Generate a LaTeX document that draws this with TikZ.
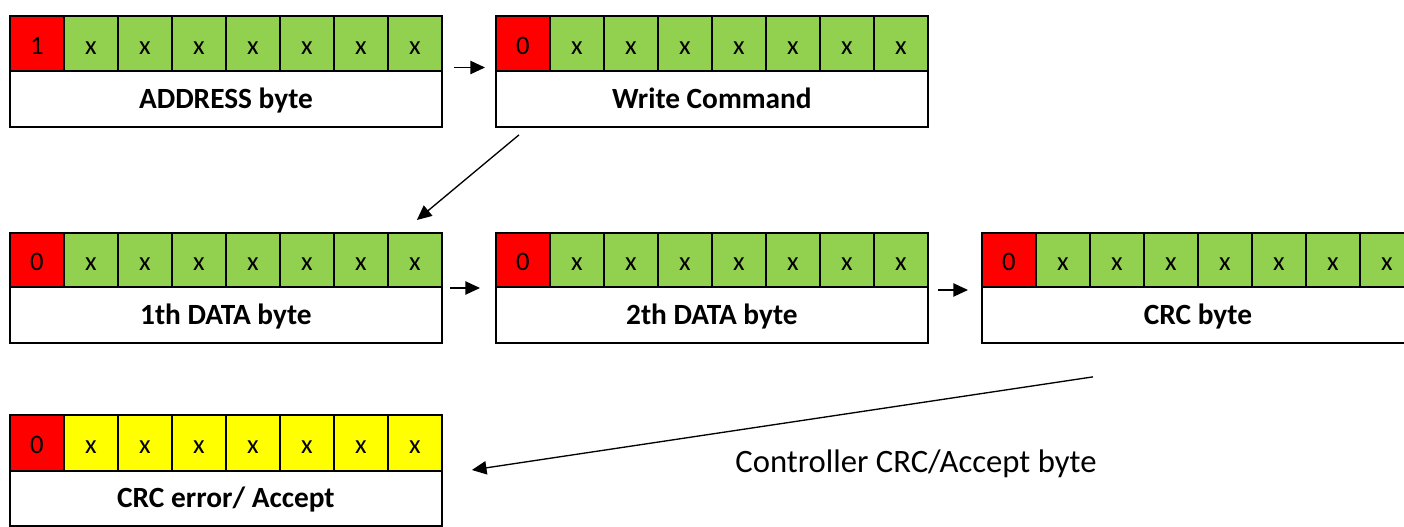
\documentclass[tikz,border=0pt]{standalone}
\usepackage{fontspec}
\setmainfont{Carlito}
\usetikzlibrary{arrows.meta}
\definecolor{bitred}{HTML}{FF0000}
\definecolor{bitgreen}{HTML}{92D050}
\definecolor{bityellow}{HTML}{FFFF00}
\tikzset{
  cell/.style={draw=black, line width=1.4pt, minimum width=40.5pt, inner sep=0pt,
    anchor=north west, font=\fontsize{20}{20}\selectfont, text height=16pt, text depth=0.2pt},
  lab/.style={draw=black, fill=white, line width=1.4pt, minimum width=324pt, inner sep=0pt,
    anchor=north west, font=\fontsize{22}{22}\selectfont\bfseries, text height=14pt, text depth=0pt},
  conn/.style={draw=black, line width=1pt, -{Triangle[length=11pt,width=10pt]}},
  captext/.style={font=\fontsize{24.5}{24.5}\selectfont, inner sep=0pt, anchor=base}
}
% name, x, ytop, ydiv, ybot, first bit, colour, label
\newcommand\bytebox[8]{%
  \node[lab, minimum height={(#5-#4)*0.75pt}] (#1) at (#2,#4) {#8};
  \node[cell, fill=bitred, minimum height={(#4-#3)*0.75pt}] (#1-c1) at (#2,#3) {#6};
  \foreach \i in {2,...,8}{%
    \node[cell, fill=#7, minimum height={(#4-#3)*0.75pt}] (#1-c\i) at ({#2+(\i-1)*54},#3) {x};
  }%
}
\begin{document}
\begin{tikzpicture}[x=0.75pt, y=-0.75pt]
\useasboundingbox[fill=white] (0,0) rectangle (1404,527);
\bytebox{A}{9}{15}{70.5}{126.5}{1}{bitgreen}{ADDRESS byte}
\bytebox{W}{495}{15}{70.5}{126.5}{0}{bitgreen}{Write Command}
\bytebox{D1}{9}{232.5}{286}{342}{0}{bitgreen}{1th DATA byte}
\bytebox{D2}{495}{232.5}{286}{342}{0}{bitgreen}{2th DATA byte}
\bytebox{C}{981}{232.5}{286}{342}{0}{bitgreen}{CRC byte}
\bytebox{E}{9}{414.5}{470}{525}{0}{bityellow}{CRC error/ Accept}
\node[captext] (cap) at (916,473) {Controller CRC/Accept byte};
\draw[conn] ([shift={(11,-3)}]A.north east) -- ([shift={(-10,-3)}]W.north west);
\draw[conn] ([shift={(24,6.5)}]W.south west) -- ([shift={(-26,-12.5)}]D1-c8.north east);
\draw[conn] ([shift={(7,2)}]D1.north east) -- ([shift={(-15,2)}]D2.north west);
\draw[conn] ([shift={(9,4)}]D2.north east) -- ([shift={(-13,4)}]C.north west);
\draw[conn] ([shift={(112,33)}]C.south west) -- ([shift={(29,0)}]E.north east);
\end{tikzpicture}
\end{document}
